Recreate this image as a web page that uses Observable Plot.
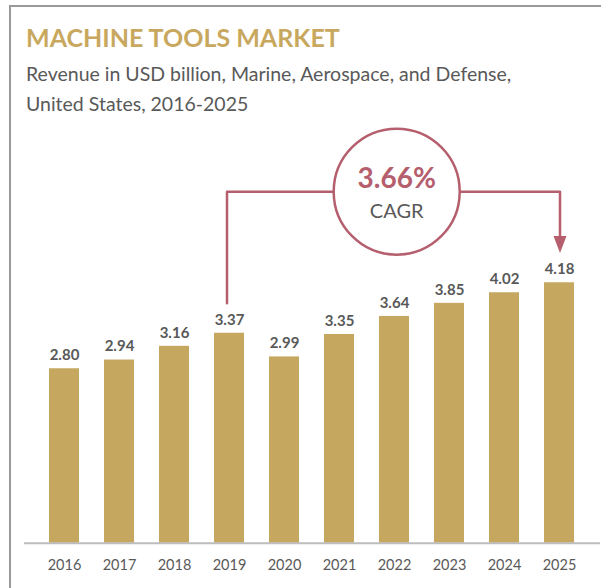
<!DOCTYPE html>
<html>
<head>
<meta charset="utf-8">
<script src="https://cdn.jsdelivr.net/npm/d3@7"></script>
<script src="https://cdn.jsdelivr.net/npm/@observablehq/plot@0.6"></script>
<style>
  html, body { margin: 0; padding: 0; background: #fff; }
  #wrap { position: relative; width: 601px; height: 588px; overflow: hidden; font-family: Lato, "Open Sans", sans-serif; }
  #frame { position: absolute; left: 9px; top: 5px; width: 700px; height: 700px; border-top: 2px solid #9a9a9a; border-left: 2px solid #9a9a9a; }
  #title { position: absolute; left: 26px; top: 25px; font-size: 25px; line-height: 25px; font-weight: 700; color: #C8A85E; white-space: nowrap; }
  #subtitle { position: absolute; left: 26px; top: 59px; font-size: 19.5px; line-height: 30px; color: #595959; white-space: nowrap; }
  #chart { position: absolute; left: 0; top: 120px; }
</style>
</head>
<body>
<div id="wrap">
  <div id="frame"></div>
  <div id="title">MACHINE TOOLS MARKET</div>
  <div id="subtitle">Revenue in USD billion, Marine, Aerospace, and Defense,<br>United States, 2016-2025</div>
  <div id="chart"></div>
</div>
<script>
// ---- data ----
const years = ["2016", "2017", "2018", "2019", "2020", "2021", "2022", "2023", "2024", "2025"];
const revenue = [2.80, 2.94, 3.16, 3.37, 2.99, 3.35, 3.64, 3.85, 4.02, 4.18];
const cagrValue = "3.66%";
const cagrText = "CAGR";
const cagrFrom = "2019";
const cagrTo = "2025";
const cagrMid = "2022";

// ---- build ----
const data = years.map((y, i) => ({year: y, value: revenue[i]}));
const gold = "#C5A75F";
const rose = "#B55E6D";
const grey = "#595959";

const vFrom = revenue[years.indexOf(cagrFrom)];
const vTo = revenue[years.indexOf(cagrTo)];
const level = d3.max(revenue) * 1.35;
const gap = 0.48;

const triangle = {
  draw(context) {
    context.moveTo(-6.5, -17);
    context.lineTo(6.5, -17);
    context.lineTo(0, 0);
    context.closePath();
  }
};

const base = 422.7;
const ppu = 62.3;
const x0 = 61.3 - 55.66 / 2;

const plot = Plot.plot({
  width: 601,
  height: 468,
  marginLeft: 24,
  marginRight: 1,
  marginTop: 0,
  marginBottom: 45,
  style: {fontFamily: "Lato, 'Open Sans', sans-serif", background: "transparent"},
  x: {type: "band", domain: years, range: [x0, x0 + 556.6], paddingInner: 0.448, paddingOuter: 0.224, axis: null},
  y: {domain: [0, 6], range: [base, base - 6 * ppu], axis: null},
  marks: [
    Plot.barY(data, {x: "year", y: "value", fill: gold}),
    Plot.ruleY([0], {stroke: "#BDBDBD", strokeWidth: 2}),
    Plot.text(data, {x: "year", y: "value", text: d => d.value.toFixed(2), dy: -13.5, lineAnchor: "middle",
      fontSize: 15, fontWeight: 700, fill: grey}),
    Plot.text(data, {x: "year", y: 0, text: "year", dy: 21.8, lineAnchor: "middle", fontSize: 14.5, fill: grey}),
    // bracket, left part
    Plot.line([{x: cagrFrom, y: vFrom + gap}, {x: cagrFrom, y: level}, {x: cagrMid, y: level}],
      {x: "x", y: "y", stroke: rose, strokeWidth: 2.5, dx: -2.5}),
    // bracket, right part
    Plot.line([{x: cagrMid, y: level}, {x: cagrTo, y: level}, {x: cagrTo, y: vTo + gap + 0.2}],
      {x: "x", y: "y", stroke: rose, strokeWidth: 2.5, dx: 0.5}),
    Plot.dot([{x: cagrTo, y: vTo + gap}], {x: "x", y: "y", symbol: triangle, fill: rose, stroke: "none", dx: 0.5, r: 5}),
    // circle
    Plot.dot([{x: cagrMid, y: level}], {x: "x", y: "y", r: 63, fill: "white", stroke: rose, strokeWidth: 2.5, dx: 2.2}),
    Plot.text([cagrValue], {x: () => cagrMid, y: () => level, text: d => d, dx: 2.2, dy: -12.5, lineAnchor: "middle",
      fontSize: 28, fontWeight: 700, fill: rose}),
    Plot.text([cagrText], {x: () => cagrMid, y: () => level, text: d => d, dx: 2.2, dy: 19.5, lineAnchor: "middle",
      fontSize: 20, fill: grey})
  ]
});
document.getElementById("chart").appendChild(plot);
</script>
</body>
</html>
